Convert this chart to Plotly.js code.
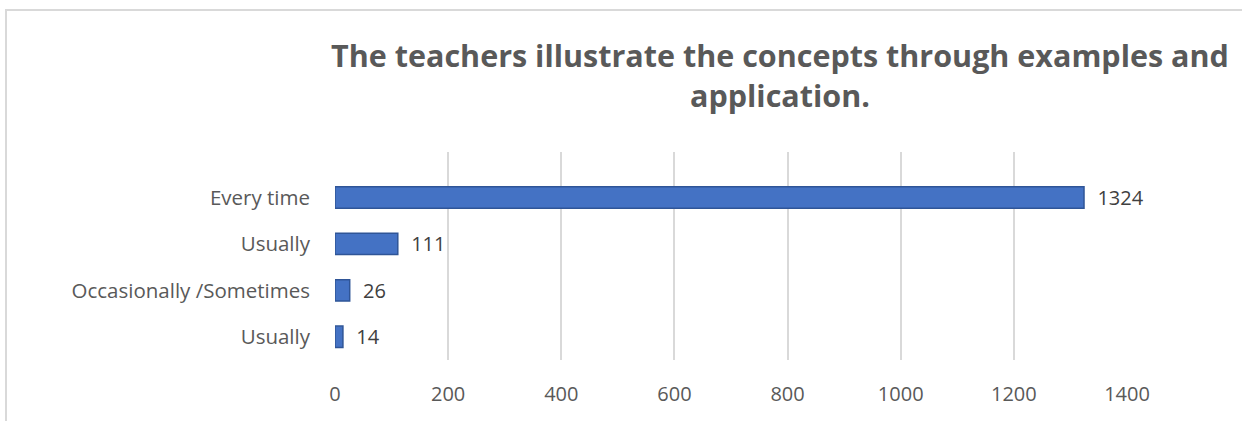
<!DOCTYPE html>
<html>
<head>
<meta charset="utf-8">
<script src="https://cdn.plot.ly/plotly-3.0.1.min.js"></script>
<style>
html,body{margin:0;padding:0;background:#fff;overflow:hidden;}
#frame{position:absolute;left:5px;top:9px;width:1300px;height:480px;border:2px solid #d9d9d9;box-sizing:border-box;}
#chart{position:absolute;left:0;top:0;width:1242px;height:421px;}
</style>
</head>
<body>
<div id="frame"></div>
<div id="chart"></div>
<script>
var categories = ["Usually", "Occasionally /Sometimes", "Usually", "Every time"];
var values = [14, 26, 111, 1324];
var positions = [0, 1, 2, 3];
var xTicks = [0, 200, 400, 600, 800, 1000, 1200, 1400];
var titleText = "The teachers illustrate the concepts through examples and<br>application.";

var trace = {
  type: "bar",
  orientation: "h",
  x: values,
  y: positions,
  width: 0.46,
  marker: {color: "#4472C4", line: {color: "#2F5597", width: 1.5}},
  text: values.map(function (v) { return "  " + v; }),
  textposition: "outside",
  constraintext: "none",
  cliponaxis: false,
  textfont: {family: "Open Sans, Liberation Sans, sans-serif", size: 20, color: "#404040"},
  hoverinfo: "none"
};

var layout = {
  width: 1242, height: 421,
  margin: {l: 335, r: 115, t: 152, b: 61},
  paper_bgcolor: "rgba(0,0,0,0)",
  plot_bgcolor: "rgba(0,0,0,0)",
  showlegend: false,
  title: {
    text: titleText,
    x: 0.628, xanchor: "center",
    y: 0.84, yanchor: "middle",
    font: {family: "Open Sans, Liberation Sans, sans-serif", size: 30.5, color: "#595959", weight: "bold"}
  },
  xaxis: {
    range: [0, 1400],
    tickvals: xTicks,
    ticktext: xTicks.map(String),
    showgrid: true, gridcolor: "#d9d9d9", gridwidth: 2,
    zeroline: false, showline: false,
    ticks: "", ticklabelstandoff: 20,
    tickfont: {family: "Open Sans, Liberation Sans, sans-serif", size: 20, color: "#595959"},
    fixedrange: true
  },
  yaxis: {
    range: [-0.5, 3.98],
    tickvals: positions,
    ticktext: categories,
    showgrid: false, zeroline: false, showline: false,
    ticks: "", ticklabelstandoff: 24,
    tickfont: {family: "Open Sans, Liberation Sans, sans-serif", size: 20.5, color: "#595959"},
    fixedrange: true
  },
  bargap: 0.5
};

Plotly.newPlot("chart", [trace], layout, {displayModeBar: false, staticPlot: true});
</script>
</body>
</html>
